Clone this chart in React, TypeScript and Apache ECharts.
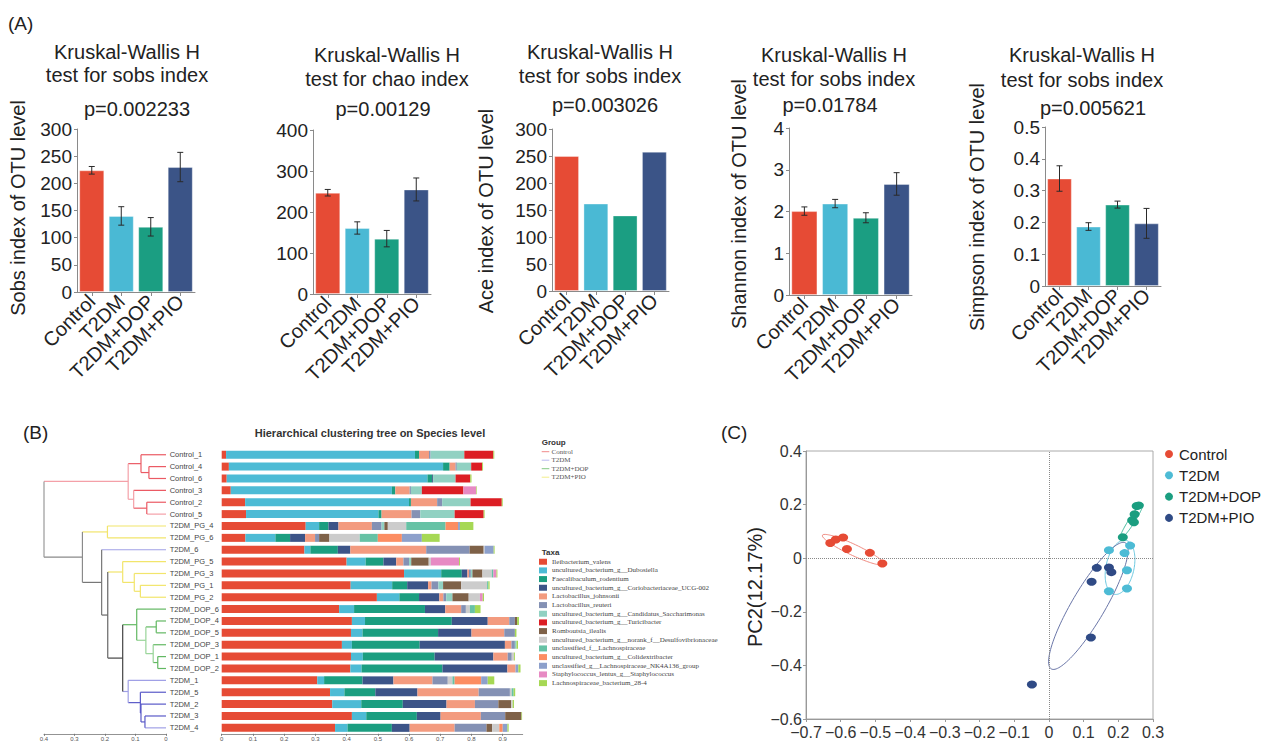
import React, { useEffect, useRef } from 'react';
import * as echarts from 'echarts';

// ---------------- DATA ----------------
const groups = ['Control', 'T2DM', 'T2DM+DOP', 'T2DM+PIO'];

const sobsMean = [224, 140, 120, 230];
const sobsErr = [7, 17, 17, 27];
const chaoMean = [247, 161, 135, 255];
const chaoErr = [8, 15, 20, 28];
const aceMean = [250, 162, 140, 258];
const shannonMean = [2.01, 2.19, 1.85, 2.66];
const shannonErr = [0.1, 0.1, 0.12, 0.27];
const simpsonMean = [0.338, 0.187, 0.256, 0.197];
const simpsonErr = [0.04, 0.012, 0.011, 0.047];

const titleLine1 = 'Kruskal-Wallis H';
const titleLine2 = ['test for sobs index', 'test for chao index', 'test for sobs index', 'test for sobs index', 'test for sobs index'];
const pValueLabels = ['p=0.002233', 'p=0.00129', 'p=0.003026', 'p=0.01784', 'p=0.005621'];
const yAxisNames = ['Sobs index of OTU level', '', 'Ace index of OTU level', 'Shannon index of OTU level', 'Simpson index of OTU level'];
const yMaxes = [300, 400, 300, 4, 0.5];
const yIntervals = [50, 100, 50, 1, 0.1];

const sampleNames = [
  'Control_1', 'Control_4', 'Control_6', 'Control_3', 'Control_2', 'Control_5',
  'T2DM_PG_4', 'T2DM_PG_6', 'T2DM_6', 'T2DM_PG_5', 'T2DM_PG_3', 'T2DM_PG_1', 'T2DM_PG_2',
  'T2DM_DOP_6', 'T2DM_DOP_4', 'T2DM_DOP_5', 'T2DM_DOP_3', 'T2DM_DOP_1', 'T2DM_DOP_2',
  'T2DM_1', 'T2DM_5', 'T2DM_2', 'T2DM_3', 'T2DM_4',
];

const taxaNames = [
  'Ileibacterium_valens',
  'uncultured_bacterium_g__Dubosiella',
  'Faecalibaculum_rodentium',
  'uncultured_bacterium_g__Coriobacteriaceae_UCG-002',
  'Lactobacillus_johnsonii',
  'Lactobacillus_reuteri',
  'uncultured_bacterium_g__Candidatus_Saccharimonas',
  'uncultured_bacterium_g__Turicibacter',
  'Romboutsia_ilealis',
  'uncultured_bacterium_g__norank_f__Desulfovibrionaceae',
  'unclassified_f__Lachnospiraceae',
  'uncultured_bacterium_g__Colidextribacter',
  'unclassified_g__Lachnospiraceae_NK4A136_group',
  'Staphylococcus_lentus_g__Staphylococcus',
  'Lachnospiraceae_bacterium_28-4',
];

// relative abundance per sample (row) and taxon (column)
const abundanceBySample = [
  [0.014, 0.605, 0.013, 0, 0.032, 0.005, 0.108, 0.093, 0, 0, 0, 0, 0, 0, 0.003],
  [0.023, 0.686, 0.021, 0, 0.019, 0.004, 0.046, 0.035, 0, 0, 0, 0, 0, 0, 0.003],
  [0.016, 0.643, 0.015, 0.003, 0, 0, 0.072, 0.047, 0, 0, 0, 0, 0, 0, 0.004],
  [0.029, 0.516, 0.011, 0, 0.046, 0.004, 0.035, 0.133, 0, 0, 0, 0, 0, 0.041, 0.002],
  [0.075, 0.525, 0.006, 0, 0.084, 0.016, 0.091, 0.1, 0, 0, 0, 0, 0, 0, 0.003],
  [0.078, 0.424, 0.01, 0, 0.096, 0.028, 0.11, 0.093, 0, 0, 0, 0, 0, 0, 0.003],
  [0.269, 0.043, 0.03, 0.032, 0.107, 0.031, 0.009, 0, 0.011, 0.059, 0.126, 0.04, 0.006, 0, 0.043],
  [0.076, 0.096, 0.047, 0.048, 0.032, 0.013, 0, 0, 0.033, 0.097, 0.058, 0.077, 0.064, 0, 0.057],
  [0.265, 0.019, 0.088, 0.04, 0.243, 0.139, 0, 0, 0.045, 0.003, 0, 0, 0.029, 0, 0.003],
  [0.4, 0.061, 0.057, 0.041, 0.023, 0.018, 0.007, 0, 0.056, 0.007, 0, 0, 0, 0.09, 0.003],
  [0.584, 0.119, 0.066, 0.018, 0.005, 0.006, 0.005, 0, 0.032, 0.03, 0.005, 0, 0, 0.01, 0.003],
  [0.413, 0.133, 0.048, 0.067, 0.011, 0.022, 0.015, 0, 0.058, 0.083, 0.004, 0, 0, 0, 0.004],
  [0.497, 0.072, 0.063, 0.065, 0.013, 0.009, 0.02, 0, 0.052, 0.036, 0, 0, 0, 0.009, 0.004],
  [0.376, 0.048, 0.227, 0.065, 0.051, 0.015, 0, 0, 0, 0.013, 0.016, 0, 0, 0, 0.018],
  [0.417, 0.042, 0.278, 0.115, 0.069, 0.018, 0, 0, 0.007, 0, 0, 0, 0, 0, 0.006],
  [0.414, 0.037, 0.242, 0.107, 0.105, 0.034, 0, 0, 0, 0, 0, 0, 0, 0, 0.005],
  [0.385, 0.032, 0.217, 0.273, 0.021, 0.011, 0.005, 0, 0, 0, 0, 0, 0, 0, 0.005],
  [0.414, 0.038, 0.23, 0.188, 0.046, 0.013, 0, 0, 0, 0.007, 0, 0, 0, 0, 0.003],
  [0.412, 0.036, 0.259, 0.208, 0.026, 0, 0, 0, 0, 0, 0, 0, 0.009, 0, 0.007],
  [0.306, 0.022, 0.123, 0.099, 0.125, 0.049, 0, 0, 0, 0.015, 0.007, 0.085, 0.021, 0, 0.021],
  [0.347, 0.046, 0.099, 0.135, 0.196, 0.1, 0, 0, 0, 0.006, 0.006, 0, 0, 0, 0.005],
  [0.354, 0.093, 0.133, 0.14, 0.091, 0.075, 0, 0, 0.041, 0.005, 0, 0, 0, 0, 0.004],
  [0.417, 0.046, 0.162, 0.076, 0.129, 0.078, 0, 0, 0.052, 0, 0, 0, 0, 0, 0.002],
  [0.363, 0.04, 0.142, 0.057, 0.144, 0.102, 0, 0, 0.018, 0.023, 0, 0.011, 0.015, 0, 0.004],
];

// hierarchical clustering merges: [childA, childB, height]; leaves are 0..23, merges are 24..
const dendroMerges = [
  [1, 2, 0.056], [0, 24, 0.082], [4, 5, 0.063], [3, 26, 0.106], [25, 27, 0.124],
  [6, 7, 0.192], [11, 12, 0.084], [10, 30, 0.104], [9, 31, 0.142],
  [14, 15, 0.032], [17, 18, 0.027], [16, 34, 0.042], [33, 35, 0.066], [13, 36, 0.096],
  [22, 23, 0.069], [21, 38, 0.082], [20, 39, 0.084], [19, 40, 0.124],
  [37, 41, 0.142], [32, 42, 0.191], [8, 43, 0.211], [29, 44, 0.274], [28, 45, 0.4],
];
const treeGroupNames = ['Control', 'T2DM', 'T2DM+DOP', 'T2DM+PIO'];

// PCoA scores [PC1, PC2]
const controlPC = [[-0.63, 0.057], [-0.614, 0.07], [-0.593, 0.077], [-0.582, 0.034], [-0.516, 0.02], [-0.48, -0.02]];
const t2dmPC = [[0.173, 0.03], [0.234, 0.047], [0.218, 0.019], [0.225, -0.045], [0.173, -0.123], [0.225, -0.113]];
const dopPC = [[0.213, 0.078], [0.24, 0.142], [0.245, 0.134], [0.247, 0.164], [0.253, 0.195], [0.259, 0.197]];
const pioPC = [[0.138, -0.036], [0.173, -0.035], [0.18, -0.052], [0.123, -0.088], [0.121, -0.296], [-0.049, -0.471]];
// ellipse: centre, major semi-axis vector (data units)
const ellipseCentres = [[-0.5643, 0.0317], [0.205, -0.034], [0.238, 0.138], [0.1137, -0.178]];
const ellipseMajor = [[0.0884, -0.054], [0.0168, 0.1007], [0.0326, 0.066], [0.107, 0.235]];
const pc1Ticks = { min: -0.7, max: 0.3, interval: 0.1 };
const pc2Ticks = { min: -0.6, max: 0.4, interval: 0.2 };

// ---------------- STYLE ----------------
const FONT = '"Liberation Sans", Arial, Helvetica, sans-serif';
const SERIF = '"Liberation Serif", "Times New Roman", serif';
const groupColors = ['#e64b35', '#4ab9d4', '#1b9e82', '#3b5487'];
const pcColors = ['#e64b35', '#4dbbd5', '#1b9e80', '#2f4a85'];
const ellipseColors = ['#f08a80', '#6cc8e0', '#3fb79a', '#6a76a8'];
const ellipseMinorPx = [5.5, 14, 3, 16.5];
const taxaColors = ['#e64b35', '#4dbbd5', '#1b9e80', '#3c5488', '#f39b7f', '#8491b4', '#91d1c2', '#dc1e24', '#7e6148', '#cccccc', '#66c2a5', '#fc8d62', '#8da0cb', '#e78ac3', '#a6d854'];
const treeLegendColors = ['#f08a8a', '#b9b9ef', '#86c986', '#f2ee8a'];
const dendroPalette = ['#eb5a64', '#f4a0a8', '#f2e56b', '#a0a0e6', '#5a5ac8', '#62b862', '#98d498', '#444444', '#666666', '#777777', '#8a8a8a', '#999999'];
const leafColorIdx = [0, 0, 0, 0, 0, 1, 2, 2, 3, 2, 2, 2, 2, 5, 5, 5, 5, 5, 5, 3, 4, 4, 4, 3];
const mergeColorIdx = [0, 0, 0, 1, 1, 2, 2, 2, 2, 5, 5, 6, 6, 5, 4, 4, 4, 3, 7, 8, 9, 10, 11];

const panelGrids = [
  { left: 77, top: 129, width: 118, height: 163 },
  { left: 313, top: 130, width: 118, height: 164 },
  { left: 552, top: 129, width: 117, height: 162 },
  { left: 789, top: 128, width: 123, height: 167 },
  { left: 1045, top: 127, width: 116, height: 159 },
];
const titlePos = [
  { x: 127, y1: 52, y2: 75, px: 137, py: 109 },
  { x: 387, y1: 55, y2: 79, px: 383, py: 109 },
  { x: 600, y1: 52, y2: 76, px: 605, py: 105 },
  { x: 834, y1: 55, y2: 79, px: 830, py: 105 },
  { x: 1082, y1: 55, y2: 80, px: 1093, py: 108 },
];
const yNamePos = [{ x: 18, y: 208 }, null, { x: 486, y: 211 }, { x: 739, y: 204 }, { x: 977, y: 207 }];

function txt(text: string, x: number, y: number, o: any = {}) {
  return {
    type: 'text', x, y, rotation: o.rotation || 0, silent: true, z: 100,
    style: {
      text, fontSize: o.fontSize || 20, fontFamily: o.fontFamily || FONT,
      fontWeight: o.fontWeight || 'normal', fill: o.fill || '#222',
      align: o.align || 'center', verticalAlign: 'middle',
    },
  };
}

function ellipsePoints(c: number[], a: number[], bPx: number) {
  const SX = 347, SY = 268;
  const px = a[0] * SX, py = a[1] * SY;
  const len = Math.hypot(px, py);
  const perp = [(-py / len) * bPx / SX, (px / len) * bPx / SY];
  const pts: number[][] = [];
  for (let i = 0; i <= 120; i++) {
    const t = (i / 120) * Math.PI * 2;
    pts.push([c[0] + a[0] * Math.cos(t) + perp[0] * Math.sin(t), c[1] + a[1] * Math.cos(t) + perp[1] * Math.sin(t)]);
  }
  return pts;
}

function buildOption() {
  const grid: any[] = [];
  const xAxis: any[] = [];
  const yAxis: any[] = [];
  const series: any[] = [];
  const graphic: any[] = [];

  // ---------- Panel A ----------
  const means = [sobsMean, chaoMean, aceMean, shannonMean, simpsonMean];
  const errs: (number[] | null)[] = [sobsErr, chaoErr, null, shannonErr, simpsonErr];
  graphic.push(txt('(A)', 8, 23, { align: 'left', fontSize: 19 }));
  for (let i = 0; i < 5; i++) {
    grid.push({ ...panelGrids[i], outerBoundsMode: 'none', containLabel: false });
    xAxis.push({
      gridIndex: i, type: 'category', data: groups,
      axisLine: { show: true, lineStyle: { color: '#8a8a8a', width: 1 } },
      axisTick: { show: true, alignWithLabel: true, length: 4, lineStyle: { color: '#8a8a8a' } },
      axisLabel: { rotate: 45, interval: 0, fontSize: 20, color: '#222', margin: 6, fontFamily: FONT },
      splitLine: { show: false },
    });
    yAxis.push({
      gridIndex: i, type: 'value', min: 0, max: yMaxes[i], interval: yIntervals[i],
      axisLine: { show: true, lineStyle: { color: '#8a8a8a', width: 1 } },
      axisTick: { show: true, length: 3, lineStyle: { color: '#8a8a8a' } },
      axisLabel: { fontSize: 19, color: '#222', margin: 5, fontFamily: FONT },
      splitLine: { show: false },
    });
    series.push({
      type: 'bar', name: 'alpha' + i, xAxisIndex: i, yAxisIndex: i, barCategoryGap: '15%',
      data: means[i].map((v, j) => ({ value: v, itemStyle: { color: groupColors[j] } })),
      itemStyle: { borderColor: 'rgba(255,255,255,0.35)', borderWidth: 1 },
      silent: true,
    });
    const e = errs[i];
    if (e) {
      series.push({
        type: 'custom', name: 'err' + i, xAxisIndex: i, yAxisIndex: i, z: 5, silent: true,
        data: means[i].map((v, j) => [j, v - e[j], v + e[j]]),
        encode: { x: 0, y: [1, 2] },
        renderItem: (_p: any, api: any) => {
          const x = api.value(0);
          const lo = api.coord([x, api.value(1)]);
          const hi = api.coord([x, api.value(2)]);
          const w = 3;
          const st = { stroke: '#2a2a2a', lineWidth: 1 };
          return {
            type: 'group', children: [
              { type: 'line', shape: { x1: lo[0], y1: lo[1], x2: hi[0], y2: hi[1] }, style: st },
              { type: 'line', shape: { x1: lo[0] - w, y1: lo[1], x2: lo[0] + w, y2: lo[1] }, style: st },
              { type: 'line', shape: { x1: hi[0] - w, y1: hi[1], x2: hi[0] + w, y2: hi[1] }, style: st },
            ],
          };
        },
      });
    }
    const tp = titlePos[i];
    graphic.push(txt(titleLine1, tp.x, tp.y1));
    graphic.push(txt(titleLine2[i], tp.x, tp.y2));
    graphic.push(txt(pValueLabels[i], tp.px, tp.py));
    const yn = yNamePos[i];
    if (yn && yAxisNames[i]) graphic.push(txt(yAxisNames[i], yn.x, yn.y, { rotation: Math.PI / 2 }));
  }

  // ---------- Panel B ----------
  const rowsTop = 448.8, rowsHeight = 285;
  // dendrogram grid (index 5)
  grid.push({ left: 44, top: rowsTop, width: 122, height: rowsHeight, outerBoundsMode: 'none' });
  xAxis.push({
    gridIndex: 5, type: 'value', min: 0, max: 0.4, interval: 0.1, inverse: true, position: 'bottom',
    axisLine: { show: true, onZero: false, lineStyle: { color: '#777', width: 0.8 } },
    axisTick: { show: true, length: 2, lineStyle: { color: '#777' } },
    axisLabel: { fontSize: 6, color: '#555', margin: 2, fontFamily: FONT },
    splitLine: { show: false },
  });
  yAxis.push({ gridIndex: 5, type: 'value', min: -0.5, max: sampleNames.length - 0.5, inverse: true, show: false });

  const nLeaf = sampleNames.length;
  const pos: { h: number; y: number }[] = sampleNames.map((_, i) => ({ h: 0, y: i }));
  const parent: number[] = [];
  dendroMerges.forEach(([a, b, h], k) => {
    pos[nLeaf + k] = { h, y: (pos[a].y + pos[b].y) / 2 };
    parent[a] = nLeaf + k;
    parent[b] = nLeaf + k;
  });
  const colorOf = (id: number) => (id < nLeaf ? leafColorIdx[id] : mergeColorIdx[id - nLeaf]);
  const segs: number[][] = [];
  for (let id = 0; id < pos.length; id++) {
    const p = parent[id];
    if (p !== undefined) segs.push([pos[id].h, pos[id].y, pos[p].h, pos[id].y, colorOf(id)]);
  }
  dendroMerges.forEach(([a, b, h], k) => {
    segs.push([h, pos[a].y, h, pos[b].y, colorOf(nLeaf + k)]);
  });
  series.push({
    type: 'custom', name: 'dendrogram', xAxisIndex: 5, yAxisIndex: 5, silent: true, clip: false,
    data: segs, encode: { x: [0, 2], y: [1, 3] },
    renderItem: (_p: any, api: any) => {
      const a = api.coord([api.value(0), api.value(1)]);
      const b = api.coord([api.value(2), api.value(3)]);
      return { type: 'line', shape: { x1: a[0], y1: a[1], x2: b[0], y2: b[1] }, style: { stroke: dendroPalette[api.value(4)], lineWidth: 1.2 } };
    },
  });

  // stacked bars grid (index 6)
  grid.push({ left: 221.7, top: rowsTop, width: 301, height: rowsHeight, outerBoundsMode: 'none' });
  xAxis.push({
    gridIndex: 6, type: 'value', min: 0, max: 0.964, interval: 0.1,
    axisLine: { show: true, lineStyle: { color: '#777', width: 0.8 } },
    axisTick: { show: true, length: 2, lineStyle: { color: '#777' } },
    axisLabel: { fontSize: 6, color: '#555', margin: 2, fontFamily: FONT, showMaxLabel: false },
    splitLine: { show: false },
  });
  yAxis.push({
    gridIndex: 6, type: 'category', data: sampleNames, inverse: true,
    axisLine: { show: false }, axisTick: { show: false },
    axisLabel: { align: 'left', margin: 52, fontSize: 7.5, color: '#444', fontFamily: FONT, interval: 0 },
  });
  taxaNames.forEach((name, k) => {
    series.push({
      type: 'bar', name, xAxisIndex: 6, yAxisIndex: 6, stack: 'taxa', barWidth: 8, silent: true,
      itemStyle: { color: taxaColors[k] },
      data: abundanceBySample.map((row) => row[k]),
    });
  });

  graphic.push(txt('(B)', 23, 432, { align: 'left', fontSize: 19 }));
  graphic.push(txt('Hierarchical clustering tree on Species level', 370, 433, { fontSize: 11, fontWeight: 'bold', fill: '#333' }));
  graphic.push(txt('Group', 541.7, 442.7, { align: 'left', fontSize: 8, fontWeight: 'bold', fill: '#333' }));
  treeGroupNames.forEach((g, i) => {
    const y = 451.7 + i * 8.5;
    graphic.push({ type: 'line', silent: true, shape: { x1: 541.7, y1: y, x2: 549.3, y2: y }, style: { stroke: treeLegendColors[i], lineWidth: 1 } });
    graphic.push(txt(g, 551.5, y, { align: 'left', fontSize: 7, fontFamily: SERIF, fill: '#555' }));
  });
  graphic.push(txt('Taxa', 541.7, 552.7, { align: 'left', fontSize: 8, fontWeight: 'bold', fill: '#333' }));

  // ---------- Panel C ----------
  grid.push({ left: 806, top: 451, width: 347, height: 268, show: true, borderColor: '#aaaaaa', borderWidth: 1, backgroundColor: 'transparent', outerBoundsMode: 'none' });
  const fmt = (v: number) => {
    const r = Math.round(v * 10) / 10;
    return r < 0 ? '\u2212' + Math.abs(r) : String(r);
  };
  xAxis.push({
    gridIndex: 7, type: 'value', ...pc1Ticks,
    axisLine: { show: true, onZero: false, lineStyle: { color: '#999' } },
    axisTick: { show: true, length: 3, lineStyle: { color: '#999' } },
    axisLabel: { fontSize: 16, color: '#333', margin: 5, fontFamily: FONT, formatter: fmt },
    splitLine: { show: false },
  });
  yAxis.push({
    gridIndex: 7, type: 'value', ...pc2Ticks,
    axisLine: { show: true, onZero: false, lineStyle: { color: '#999' } },
    axisTick: { show: true, length: 3, lineStyle: { color: '#999' } },
    axisLabel: { fontSize: 16, color: '#333', margin: 4, fontFamily: FONT, formatter: fmt },
    splitLine: { show: false },
  });
  const pcData = [controlPC, t2dmPC, dopPC, pioPC];
  pcData.forEach((_, i) => {
    series.push({
      type: 'line', name: groups[i] + ' ellipse', xAxisIndex: 7, yAxisIndex: 7, silent: true,
      data: ellipsePoints(ellipseCentres[i], ellipseMajor[i], ellipseMinorPx[i]),
      showSymbol: false, symbol: 'none', smooth: false, z: 2,
      lineStyle: { color: ellipseColors[i], width: 1 },
    });
  });
  pcData.forEach((pts, i) => {
    const s: any = {
      type: 'scatter', name: groups[i], xAxisIndex: 7, yAxisIndex: 7, silent: true,
      data: pts, symbol: 'circle', symbolSize: [10, 8], z: 3,
      itemStyle: { color: pcColors[i], opacity: 1 },
    };
    if (i === 0) {
      s.markLine = {
        silent: true, symbol: ['none', 'none'], label: { show: false },
        lineStyle: { type: 'dotted', color: '#888', width: 1 },
        data: [{ xAxis: 0 }, { yAxis: 0 }],
      };
    }
    series.push(s);
  });
  graphic.push(txt('(C)', 721, 432, { align: 'left', fontSize: 19 }));
  graphic.push(txt('PC2(12.17%)', 755, 587, { rotation: Math.PI / 2, fontSize: 20 }));

  const legend = [
    {
      data: taxaNames, orient: 'vertical', left: 539, top: 557.4, padding: 0,
      itemWidth: 8, itemHeight: 6, itemGap: 0, icon: 'rect', selectedMode: false,
      textStyle: { fontSize: 7, fontFamily: SERIF, color: '#444', lineHeight: 8.67 },
    },
    {
      data: groups, orient: 'vertical', left: 1165, top: 443.35, padding: 0,
      itemWidth: 10, itemHeight: 8, itemGap: 0, icon: 'circle', selectedMode: false,
      textStyle: { fontSize: 15, fontFamily: FONT, color: '#222', lineHeight: 21.3 },
    },
  ];

  return {
    animation: false,
    backgroundColor: '#ffffff',
    textStyle: { fontFamily: FONT },
    tooltip: { show: false },
    grid, xAxis, yAxis, series, legend, graphic,
  };
}

export default function App() {
  const ref = useRef<HTMLDivElement>(null);
  useEffect(() => {
    if (!ref.current) return;
    const chart = echarts.init(ref.current, null, { renderer: 'svg' });
    chart.setOption(buildOption() as any);
    return () => chart.dispose();
  }, []);
  return (
    <div
      ref={ref}
      style={{ position: 'absolute', left: 0, top: 0, width: 1271, height: 742, background: '#fff' }}
    />
  );
}
